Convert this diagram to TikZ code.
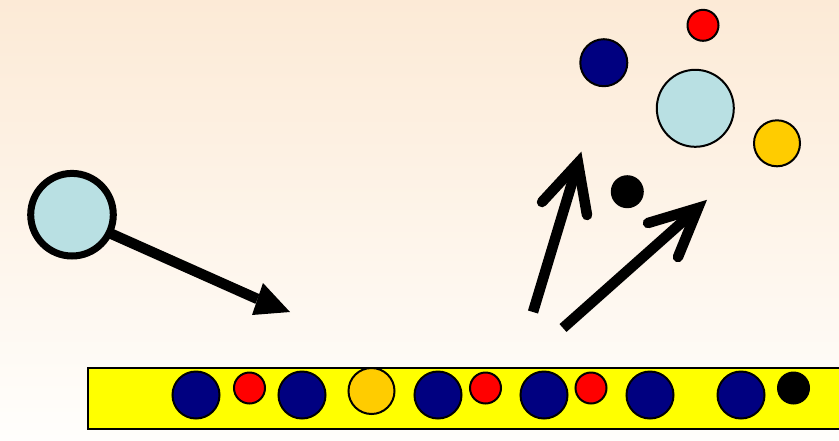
\documentclass[tikz,border=0pt]{standalone}
\usetikzlibrary{calc}
\definecolor{bgtop}{HTML}{FCEAD6}
\definecolor{bgmid}{HTML}{FEF6EF}
\definecolor{bgbot}{HTML}{FFFEFC}
\definecolor{navyc}{HTML}{000080}
\definecolor{redc}{HTML}{FF0000}
\definecolor{orangec}{HTML}{FFCC00}
\definecolor{lblue}{HTML}{B9E0E3}
\definecolor{yel}{HTML}{FFFF00}
\begin{document}
\begin{tikzpicture}[x=1pt,y=-1pt,
  ball/.style={circle,draw=black,line width=2pt,inner sep=0pt,minimum size=#1},
  bignavy/.style={ball=47pt,fill=navyc},
  smallred/.style={ball=31pt,fill=redc},
  bigorange/.style={ball=46pt,fill=orangec},
  smallblack/.style={circle,fill=black,inner sep=0pt,minimum size=33pt},
  shaft/.style={line width=10.5pt},
  barb/.style={line width=10.5pt,line cap=round,line join=miter}]
\useasboundingbox (0,0) rectangle (839,440);
\shade[top color=bgtop,middle color=bgmid,bottom color=bgbot] (0,0) rectangle (839,440);
% bar
\draw[fill=yel,line width=2.5pt] (88,368) rectangle (845,429);
\node[bignavy] (n1) at (196,395) {};
\node[smallred] (r1) at (249.5,388) {};
\node[bignavy] (n2) at (302,395) {};
\node[bigorange] (o1) at (371.5,391) {};
\node[bignavy] (n3) at (438,395) {};
\node[smallred] (r2) at (485.5,388) {};
\node[bignavy] (n4) at (544,395) {};
\node[smallred] (r3) at (591,388) {};
\node[bignavy] (n5) at (650,395) {};
\node[bignavy] (n6) at (741,395) {};
\node[smallblack] (k1) at (793.5,388) {};
% incoming particle
\coordinate (tipL) at (290,312);
\coordinate (bL1) at (263,283);
\coordinate (bL2) at (252,315);
\draw[shaft] (105,231) -- ($(bL1)!0.5!(bL2)$);
\fill (tipL) -- (bL1) -- (bL2) -- cycle;
\node[circle,draw=black,line width=7pt,fill=lblue,inner sep=0pt,minimum size=82.6pt] (ion) at (72,214.7) {};
% outgoing arrows
\coordinate (tA) at (578,163);
\draw[shaft] (533,312) -- ($(533,312)!0.96!(tA)$);
\draw[barb] (542,202) -- (tA) -- (587,215);
\coordinate (tB) at (698,208);
\draw[shaft] (563,328) -- ($(563,328)!0.95!(tB)$);
\draw[barb] (648,223) -- (tB) -- (678,257);
% sputtered particles
\node[smallred] (r4) at (703,25.3) {};
\node[bignavy] (n7) at (603.8,62.7) {};
\node[ball=77pt,fill=lblue] (ion2) at (695.3,108.3) {};
\node[bigorange] (o2) at (777,143.3) {};
\node[smallblack] (k2) at (627.3,191.7) {};
\end{tikzpicture}
\end{document}
